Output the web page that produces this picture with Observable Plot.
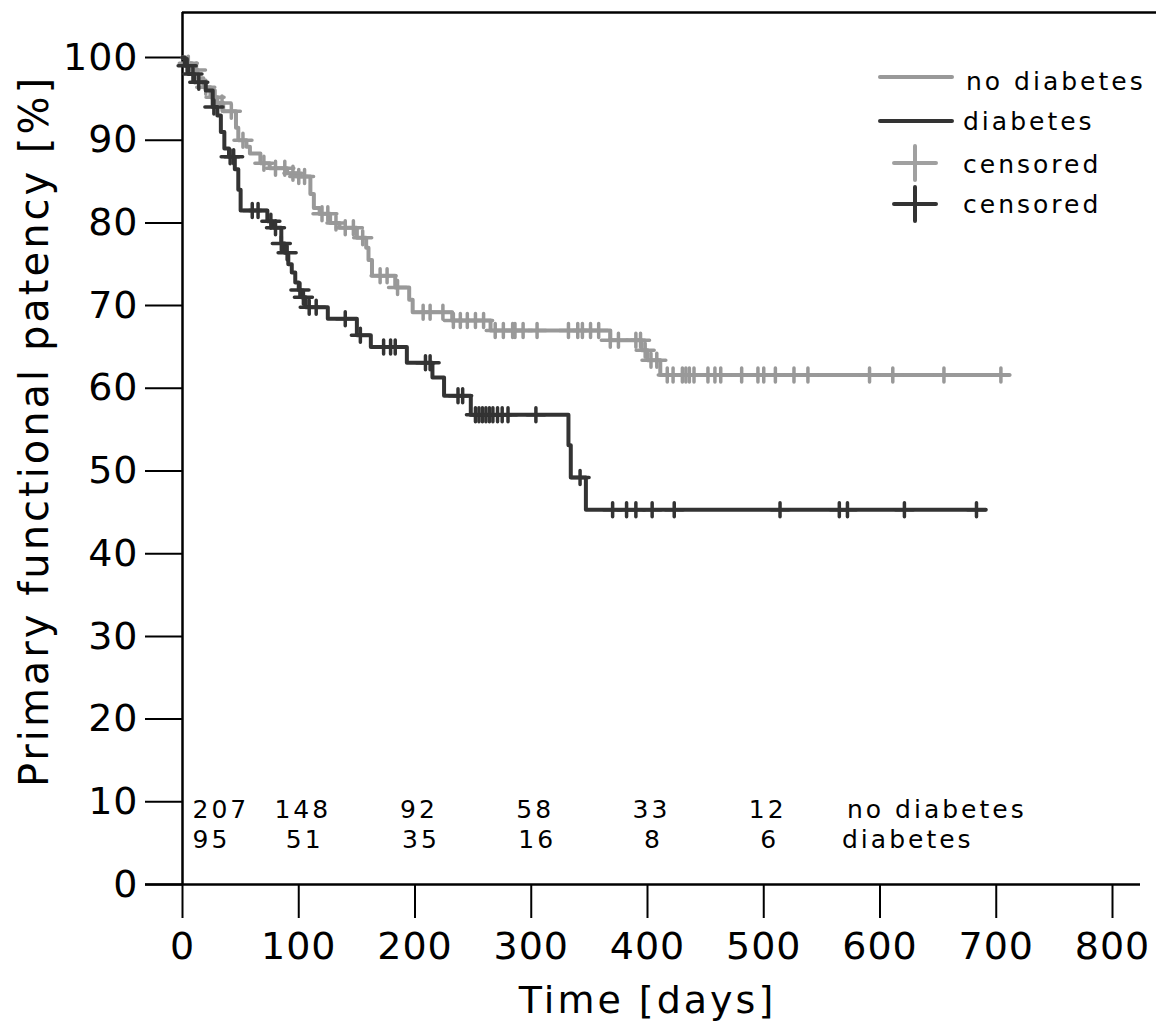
<!DOCTYPE html>
<html>
<head>
<meta charset="utf-8">
<script src="https://cdn.jsdelivr.net/npm/d3@7"></script>
<script src="https://cdn.jsdelivr.net/npm/@observablehq/plot@0.6"></script>
<style>
  html, body { margin: 0; padding: 0; background: #fff; }
  #wrap { position: relative; width: 1156px; height: 1027px; font-family: "DejaVu Sans", Verdana, sans-serif; }
  #legend { position: absolute; left: 0; top: 0; pointer-events: none; }
</style>
</head>
<body>
<div id="wrap"></div>
<script>
// ---- data ----
const noDiabTimes = [0, 3, 8, 13, 18, 24, 30, 35, 46, 48, 55, 58, 67, 75, 90, 100, 110, 113, 118, 127, 135, 150, 158, 160, 163, 183, 195, 198, 232, 265, 368, 395, 400, 411];
const noDiabSurv  = [100, 99.3, 98.5, 97.5, 96.4, 95.2, 94.5, 93.5, 91.5, 90, 89.2, 88.4, 87.2, 86.6, 86, 85.6, 83.5, 81.8, 81.1, 80, 79.4, 78.2, 77, 75.5, 73.6, 72.2, 70.7, 69.2, 68.2, 67, 65.8, 64.6, 63.4, 61.6];
const noDiabEnd = 711;
const noDiabCensored = [5, 12, 20, 28, 34, 42, 52, 70, 80, 88, 95, 100, 105, 120, 125, 132, 140, 147, 155, 170, 176, 185, 207, 213, 224, 233, 239, 245, 252, 259, 269, 276, 284, 286, 293, 305, 332, 340, 344, 351, 358, 368, 375, 390, 394, 398, 403, 408, 417, 422, 430, 433, 436, 440, 452, 458, 463, 481, 495, 500, 510, 526, 538, 591, 611, 655, 704];

const diabTimes = [0, 2, 5, 10, 20, 26, 30, 33, 36, 40, 45, 48, 50, 73, 78, 85, 88, 91, 94, 97, 100, 102, 106, 125, 150, 162, 193, 215, 225, 248, 332, 334, 347];
const diabSurv  = [100, 99, 98, 97, 96, 94, 93, 91, 89, 88, 86.5, 84, 81.5, 80.2, 79.4, 77.5, 76.4, 75, 74, 72.8, 71.9, 71, 69.8, 68.4, 66.4, 65, 63.1, 61.3, 59.1, 56.8, 53.1, 49.2, 45.3];
const diabEnd = 691;
const diabCensored = [4, 9, 14, 27, 41, 44, 60, 65, 76, 80, 85, 90, 101, 104, 109, 115, 140, 153, 173, 179, 183, 209, 213, 237, 241, 252, 255, 258, 261, 264, 267, 271, 275, 280, 304, 342, 370, 382, 390, 404, 423, 514, 565, 572, 621, 683];

const riskTimes = [0, 100, 200, 300, 400, 500];
const riskNoDiab = [207, 148, 92, 58, 33, 12];
const riskDiab = [95, 51, 35, 16, 8, 6];
const groupNames = ["no diabetes", "diabetes"];

const xTicks = [0, 100, 200, 300, 400, 500, 600, 700, 800];
const yTicks = [0, 10, 20, 30, 40, 50, 60, 70, 80, 90, 100];

const GRAY = "#999999", DARK = "#333333";

// ---- build tables ----
function curve(times, surv, end) {
  const pts = times.map((t, i) => ({t, s: surv[i]}));
  pts.push({t: end, s: surv[surv.length - 1]});
  return pts;
}
function censorPts(times, surv, cens) {
  const bis = d3.bisector(d => d).right;
  return cens.map(t => ({t, s: surv[Math.max(0, bis(times, t) - 1)]}));
}
const noDiabLine = curve(noDiabTimes, noDiabSurv, noDiabEnd);
const diabLine = curve(diabTimes, diabSurv, diabEnd);
const noDiabCens = censorPts(noDiabTimes, noDiabSurv, noDiabCensored);
const diabCens = censorPts(diabTimes, diabSurv, diabCensored);

const plusSymbol = {
  draw(ctx) {
    ctx.moveTo(-9, 0); ctx.lineTo(9, 0);
    ctx.moveTo(0, -7); ctx.lineTo(0, 7);
  }
};

const riskRows = [riskNoDiab, riskDiab].map((vals, r) => riskTimes.map((t, i) => ({t, v: String(vals[i]), row: r, i})));
const riskFirst = riskRows.flat().filter(d => d.i === 0);
const riskRest = riskRows.flat().filter(d => d.i > 0);
const rowDy = [-67, -37];

const txt = {fill: "black", fontSize: 25, frameAnchor: "bottom", lineAnchor: "bottom"};

const chart = Plot.plot({
  width: 1156,
  height: 1027,
  marginLeft: 182,
  marginRight: 44,
  marginTop: 57,
  marginBottom: 143,
  x: {domain: [0, 800]},
  y: {domain: [0, 100]},
  style: {fontFamily: "'DejaVu Sans', Verdana, sans-serif", background: "white", color: "black", overflow: "visible"},
  marks: [
    Plot.axisY({ticks: yTicks, tickSize: 37, tickPadding: 7, fontSize: 38, label: null, strokeWidth: 2}),
    Plot.axisX({ticks: xTicks, tickSize: 34, tickPadding: 14, fontSize: 38, label: null, strokeWidth: 2}),
    Plot.ruleX([0], {y1: 100, y2: 0, insetTop: -45, stroke: "black", strokeWidth: 2.5}),
    Plot.ruleY([0], {insetLeft: -37, insetRight: -28, stroke: "black", strokeWidth: 2.5}),
    Plot.ruleY([100], {dy: -45, insetRight: -44, stroke: "black", strokeWidth: 2.5}),
    Plot.line(noDiabLine, {x: "t", y: "s", curve: "step-after", stroke: GRAY, strokeWidth: 4}),
    Plot.dot(noDiabCens, {x: "t", y: "s", symbol: plusSymbol, stroke: GRAY, strokeWidth: 3.5, strokeLinecap: "round", fill: "none"}),
    Plot.line(diabLine, {x: "t", y: "s", curve: "step-after", stroke: DARK, strokeWidth: 4}),
    Plot.dot(diabCens, {x: "t", y: "s", symbol: plusSymbol, stroke: DARK, strokeWidth: 3.5, strokeLinecap: "round", fill: "none"}),
    // numbers at risk
    Plot.text(riskFirst.filter(d => d.row === 0), {...txt, x: "t", text: "v", textAnchor: "start", dx: 10, dy: rowDy[0]}),
    Plot.text(riskFirst.filter(d => d.row === 1), {...txt, x: "t", text: "v", textAnchor: "start", dx: 10, dy: rowDy[1]}),
    Plot.text(riskRest.filter(d => d.row === 0), {...txt, x: "t", text: "v", textAnchor: "middle", dx: 4, dy: rowDy[0]}),
    Plot.text(riskRest.filter(d => d.row === 1), {...txt, x: "t", text: "v", textAnchor: "middle", dx: 6, dy: rowDy[1]}),
    Plot.text([groupNames[0]], {...txt, x: 600, text: d => d, dy: rowDy[0], dx: -33, textAnchor: "start"}),
    Plot.text([groupNames[1]], {...txt, x: 600, text: d => d, dy: rowDy[1], dx: -38, textAnchor: "start"}),
    // axis titles
    Plot.text(["Primary functional patency [%]"], {frameAnchor: "left", text: d => d, rotate: -90, dx: -147, dy: -40, fontSize: 40, textAnchor: "middle", lineAnchor: "middle", fill: "black"}),
    Plot.text(["Time [days]"], {frameAnchor: "bottom", text: d => d, dy: 116, fontSize: 38, textAnchor: "middle", lineAnchor: "middle", fill: "black"})
  ]
});

// letter spacing for chart texts
d3.select(chart).selectAll("text").style("letter-spacing", "3px");
d3.select(chart).selectAll("g[aria-label='y-axis tick label'] text, g[aria-label='x-axis tick label'] text").style("letter-spacing", "1px");

const wrap = document.getElementById("wrap");
wrap.appendChild(chart);

// ---- legend overlay ----
const lg = d3.select(wrap).append("svg").attr("id", "legend").attr("width", 1156).attr("height", 1027)
  .style("font-family", "'DejaVu Sans', Verdana, sans-serif");
const items = [
  {kind: "line", color: GRAY, label: "no diabetes", y: 77, tx: 966, ty: 90},
  {kind: "line", color: DARK, label: "diabetes", y: 121, tx: 963, ty: 130},
  {kind: "plus", color: "#a0a0a0", label: "censored", y: 163, tx: 963, ty: 173},
  {kind: "plus", color: DARK, label: "censored", y: 204, tx: 963, ty: 213}
];
items.forEach(it => {
  if (it.kind === "line") {
    lg.append("line").attr("x1", 880).attr("x2", 952).attr("y1", it.y).attr("y2", it.y)
      .attr("stroke", it.color).attr("stroke-width", 4).attr("stroke-linecap", "round");
  } else {
    lg.append("path").attr("d", `M894,${it.y}H936M915,${it.y - 17}V${it.y + 17}`)
      .attr("stroke", it.color).attr("stroke-width", 4).attr("stroke-linecap", "round").attr("fill", "none");
  }
  lg.append("text").attr("x", it.tx).attr("y", it.ty)
    .attr("font-size", 25).attr("fill", "black").style("letter-spacing", "3px").text(it.label);
});
</script>
</body>
</html>
